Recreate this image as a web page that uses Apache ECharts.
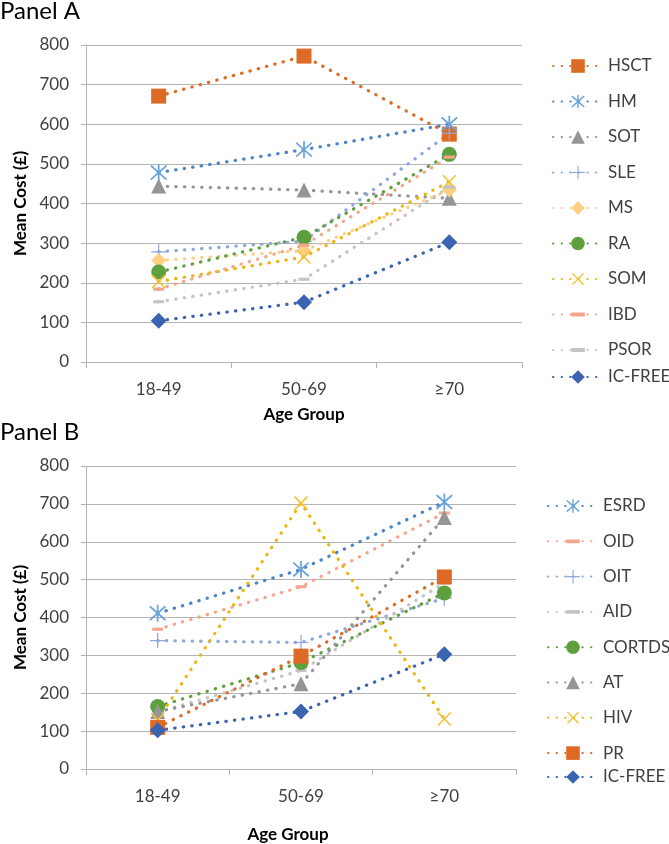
<!DOCTYPE html>
<html>
<head>
<meta charset="utf-8">
<script src="https://cdn.jsdelivr.net/npm/echarts@6/dist/echarts.min.js"></script>
<style>
html,body{margin:0;padding:0;background:#fff;}
#c{width:669px;height:844px;}
</style>
</head>
<body>
<div id="c"></div>
<script>
// ---- data ----
const categories = ['18-49', '50-69', '≥70'];

// Panel A
const hsct   = [671, 772, 575];
const hm     = [478, 536, 600];
const sot    = [444, 434, 413];
const sle    = [278, 305, 577];
const ms     = [256, 281, 434];
const ra     = [227, 315, 524];
const som    = [203, 265, 455];
const ibd    = [184, 295, 517];
const psor   = [152, 209, 441];
const icFreeA = [104, 151, 302];

// Panel B
const esrd   = [411, 527, 705];
const oid    = [369, 481, 676];
const oit    = [339, 334, 451];
const aid    = [150, 260, 491];
const cortds = [165, 281, 465];
const at     = [152, 225, 664];
const hiv    = [130, 702, 132];
const pr     = [110, 298, 507];
const icFreeB = [102, 152, 303];

const yTicks = [0, 100, 200, 300, 400, 500, 600, 700, 800];

// ---- styles ----
const C = {
  orange: '#DD6B26', blue: '#4A84C6', blueMk: '#6AA3DA', gray: '#959595', lav: '#8EA6DC',
  peach: '#FFCF85', green: '#5E9F3E', gold: '#EDB511', salmon: '#F2A68C', lgray: '#C4C4C4', navy: '#3A63B2'
};
const STAR = 'path://M4.55 0H5.45V10H4.55Z M0.6 1.3L1.3 0.6L9.4 8.7L8.7 9.4Z M8.7 0.6L9.4 1.3L1.3 9.4L0.6 8.7Z';
const XMK  = 'path://M0 0L0.01 0Z M0.6 1.3L1.3 0.6L9.4 8.7L8.7 9.4Z M8.7 0.6L9.4 1.3L1.3 9.4L0.6 8.7Z M10 10L9.99 10Z';
const PLUS = 'path://M4.6 0H5.4V10H4.6Z M0 4.6H10V5.4H0Z';
const DASH = 'path://M0 0L0.01 0Z M0 3.6H10V6.4H0Z M10 10L9.99 10Z';

function mk(name, data, idx, color, symbol, size, mColor) {
  return {
    name: name, type: 'line', data: data, xAxisIndex: idx, yAxisIndex: idx,
    symbol: symbol, symbolSize: size, showAllSymbol: true,
    lineStyle: { color: color, width: 3.2, type: [0.4, 8.2], cap: 'round' },
    itemStyle: { color: mColor || color },
    emphasis: { disabled: true },
    animation: false
  };
}

const series = [
  mk('HSCT', hsct, 0, C.orange, 'rect', 15),
  mk('HM', hm, 0, C.blue, STAR, 17, C.blueMk),
  mk('SOT', sot, 0, C.gray, 'triangle', 15),
  mk('SLE', sle, 0, C.lav, PLUS, 15),
  mk('MS', ms, 0, C.peach, 'diamond', 15),
  mk('RA', ra, 0, C.green, 'circle', 15),
  mk('SOM', som, 0, C.gold, XMK, 16, '#F2C230'),
  mk('IBD', ibd, 0, C.salmon, DASH, 11),
  mk('PSOR', psor, 0, C.lgray, DASH, 11),
  mk('IC-FREE', icFreeA, 0, C.navy, 'diamond', 16),

  mk('ESRD', esrd, 1, C.blue, STAR, 17, C.blueMk),
  mk('OID', oid, 1, C.salmon, DASH, 11),
  mk('OIT', oit, 1, C.lav, PLUS, 15),
  mk('AID', aid, 1, C.lgray, DASH, 11),
  mk('CORTDS', cortds, 1, C.green, 'circle', 15),
  mk('AT', at, 1, C.gray, 'triangle', 15),
  mk('HIV', hiv, 1, C.gold, XMK, 16, '#F2C230'),
  mk('PR', pr, 1, C.orange, 'rect', 15),
  mk('IC-FREE', icFreeB, 1, C.navy, 'diamond', 16)
];

const axisGray = '#B4B4B4';
function xAx(idx, gap, pad) {
  return {
    type: 'category', gridIndex: idx, data: categories, boundaryGap: true,
    axisLine: { show: true, lineStyle: { color: axisGray, width: 1 } },
    axisTick: { show: true, length: 6, alignWithLabel: false, lineStyle: { color: axisGray } },
    axisLabel: { color: '#404040', fontSize: 17, margin: 19, fontFamily: 'Lato' },
    splitLine: { show: false },
    name: 'Age Group', nameLocation: 'middle', nameGap: gap,
    nameTextStyle: { fontWeight: 'bold', fontSize: 17, color: '#000', fontFamily: 'Lato', padding: pad }
  };
}
function yAx(idx) {
  return {
    type: 'value', gridIndex: idx, min: yTicks[0], max: yTicks[yTicks.length - 1], interval: 100,
    axisLine: { show: true, lineStyle: { color: axisGray, width: 1 } },
    axisTick: { show: true, length: 5, lineStyle: { color: axisGray } },
    axisLabel: { color: '#404040', fontSize: 17, margin: 17, fontFamily: 'Lato' },
    splitLine: { show: true, lineStyle: { color: axisGray, width: 1 } },
    name: 'Mean Cost (£)', nameLocation: 'middle', nameGap: 57, nameRotate: 90,
    nameTextStyle: { fontWeight: 'bold', fontSize: 17, color: '#000', fontFamily: 'Lato' }
  };
}

function lg(names, left, top, gap) {
  return {
    data: names, orient: 'vertical', left: left, top: top, padding: 0,
    itemWidth: 50, itemHeight: 17, itemGap: gap, selectedMode: false,
    textStyle: { fontSize: 17, color: '#404040', fontFamily: 'Lato', lineHeight: 17 }
  };
}

const option = {
  animation: false,
  textStyle: { fontFamily: 'Lato' },
  grid: [
    { left: 86, top: 45, width: 436, height: 317 },
    { left: 86, top: 466, width: 430, height: 303 }
  ],
  xAxis: [xAx(0, 44, [0, 0, 0, 0]), xAx(1, 57, [0, 26, 0, 0])],
  yAxis: [yAx(0), yAx(1)],
  legend: [
    lg(['HSCT', 'HM', 'SOT', 'SLE', 'MS', 'RA', 'SOM', 'IBD', 'PSOR'], 552, 57.5, 18.5),
    lg(['IC-FREE'], 552, 368.5, 10),
    lg(['ESRD', 'OID', 'OIT', 'AID', 'CORTDS', 'AT', 'HIV', 'PR'], 547, 497.5, 18.3),
    lg(['IC-FREE'], 547, 768.5, 10)
  ],
  graphic: [
    { type: 'text', left: 0, top: -1, style: { text: 'Panel A', fontSize: 24, fontFamily: 'Lato', fill: '#000' } },
    { type: 'text', left: 0, top: 420, style: { text: 'Panel B', fontSize: 24, fontFamily: 'Lato', fill: '#000' } }
  ],
  series: series
};

const chart = echarts.init(document.getElementById('c'), null, { renderer: 'canvas' });
chart.setOption(option);
</script>
</body>
</html>
